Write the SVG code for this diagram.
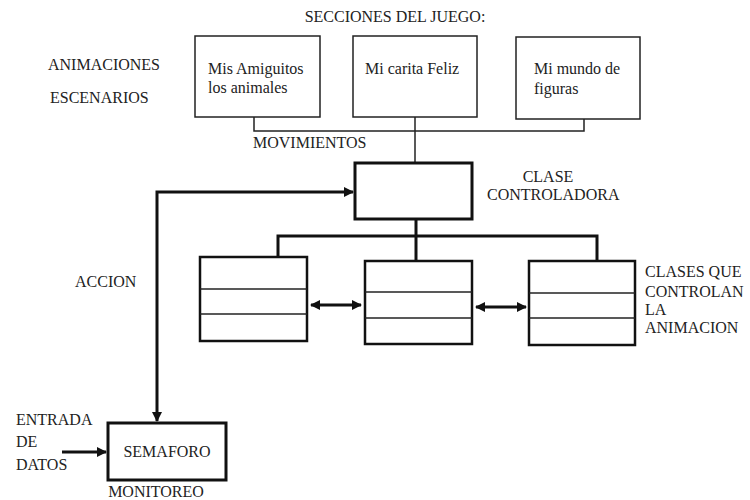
<svg xmlns="http://www.w3.org/2000/svg" width="750" height="500" viewBox="0 0 750 500">
<style>
text{font-family:"Liberation Serif","Times New Roman",serif;font-size:16px;fill:#222}
.thin{fill:#fff;stroke:#222;stroke-width:1.5}
.thick{fill:#fff;stroke:#111;stroke-width:3}
.cls{fill:#fff;stroke:#111;stroke-width:2.5}
.div{stroke:#222;stroke-width:1.5}
.c1{fill:none;stroke:#222;stroke-width:1.5}
.c3{fill:none;stroke:#111;stroke-width:3}
</style>
<defs>
<marker id="ah" viewBox="0 0 10 10" refX="9" refY="5" markerWidth="10" markerHeight="10" markerUnits="userSpaceOnUse" orient="auto-start-reverse">
<path d="M0,0 L10,5 L0,10 z" fill="#111"/>
</marker>
</defs>
<rect width="750" height="500" fill="#fff"/>
<text x="395" y="22" text-anchor="middle">SECCIONES DEL JUEGO:</text>
<text x="48" y="70">ANIMACIONES</text>
<text x="50" y="103">ESCENARIOS</text>
<text x="253" y="148">MOVIMIENTOS</text>
<text x="548" y="182" text-anchor="middle">CLASE</text>
<text x="487" y="200">CONTROLADORA</text>
<text x="75" y="287">ACCION</text>
<g id="clases-label">
<text x="645" y="277">CLASES QUE</text>
<text x="645" y="297">CONTROLAN</text>
<text x="645" y="315">LA</text>
<text x="645" y="333">ANIMACION</text>
</g>
<g id="entrada-label">
<text x="16" y="425">ENTRADA</text>
<text x="16" y="447">DE</text>
<text x="16" y="470">DATOS</text>
</g>
<g id="connectors">
<path class="c1" d="M254 117 V131 H584 V119"/>
<path class="c1" d="M415 117 V163"/>
<path class="c3" d="M416 219 V236"/>
<path class="c3" d="M278 258 V236 H597 V261"/>
<path class="c3" d="M416 236 V261"/>
<path class="c3" d="M157 421 V192 H353" marker-start="url(#ah)" marker-end="url(#ah)"/>
<path class="c3" d="M311 305 H361" marker-start="url(#ah)" marker-end="url(#ah)"/>
<path class="c3" d="M476 307 H526" marker-start="url(#ah)" marker-end="url(#ah)"/>
<path class="c3" d="M62 452 H106" marker-end="url(#ah)"/>
</g>
<g id="sec1">
<rect class="thin" x="195" y="36" width="125" height="81"/>
<text x="208" y="74">Mis Amiguitos</text>
<text x="208" y="93">los animales</text>
</g>
<g id="sec2">
<rect class="thin" x="353" y="36" width="124" height="81"/>
<text x="365" y="74">Mi carita Feliz</text>
</g>
<g id="sec3">
<rect class="thin" x="516" y="37" width="124" height="82"/>
<text x="534" y="74">Mi mundo de</text>
<text x="534" y="94">figuras</text>
</g>
<g id="controladora">
<rect class="thick" x="355" y="163" width="117" height="56"/>
</g>
<g id="clase1">
<rect class="cls" x="200" y="257" width="107" height="84"/>
<line class="div" x1="200" y1="289" x2="307" y2="289"/>
<line class="div" x1="200" y1="314" x2="307" y2="314"/>
</g>
<g id="clase2">
<rect class="cls" x="365" y="261" width="107" height="83"/>
<line class="div" x1="365" y1="292" x2="472" y2="292"/>
<line class="div" x1="365" y1="318" x2="472" y2="318"/>
</g>
<g id="clase3">
<rect class="cls" x="529" y="261" width="106" height="84"/>
<line class="div" x1="529" y1="293" x2="635" y2="293"/>
<line class="div" x1="529" y1="318" x2="635" y2="318"/>
</g>
<g id="semaforo">
<rect class="thick" x="108" y="423" width="118" height="57"/>
<text x="167" y="457" text-anchor="middle">SEMAFORO</text>
<text x="156" y="497" text-anchor="middle">MONITOREO</text>
</g>
</svg>
